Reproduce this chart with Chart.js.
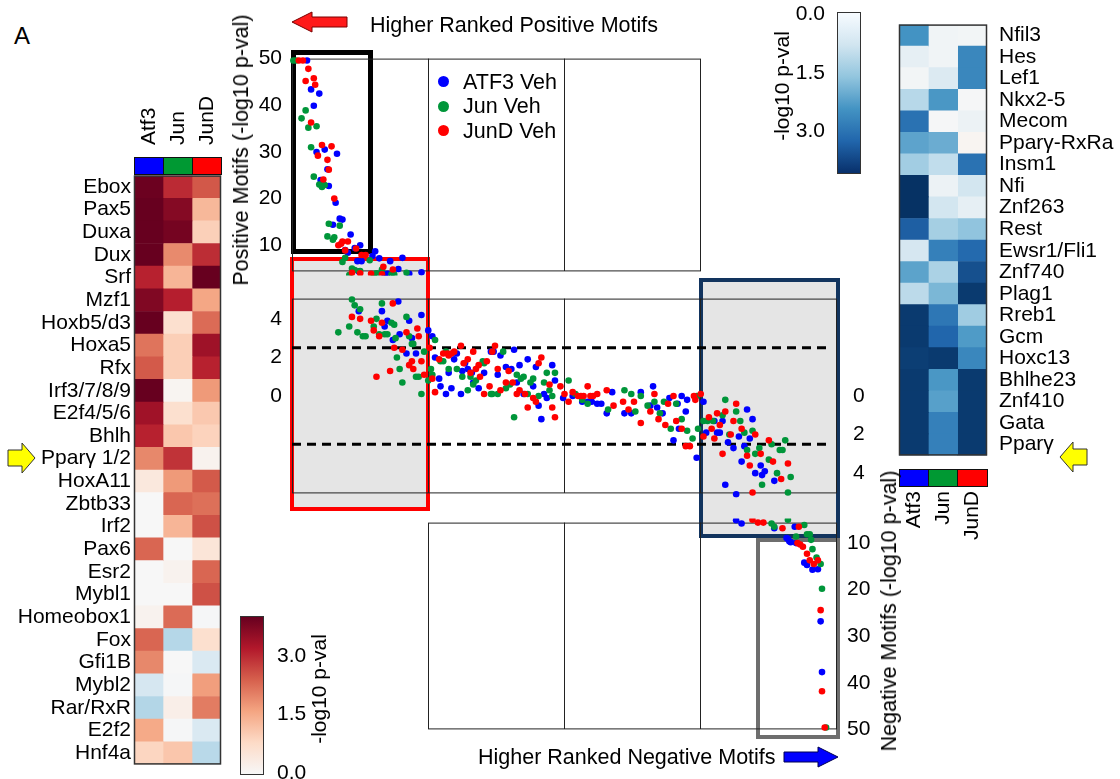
<!DOCTYPE html>
<html>
<head>
<meta charset="utf-8">
<script src="https://cdn.jsdelivr.net/npm/chart.js@4.4.0/dist/chart.umd.min.js"></script>
<style>
  body { margin: 0; background: #fff; }
  #fig { position: relative; width: 1120px; height: 779px; overflow: hidden;
         font-family: 'Liberation Sans', Arial, sans-serif; color: #000; }
  canvas { position: absolute; z-index: 1; }
  .txt { position: absolute; font-size: 21px; line-height: 24px; white-space: nowrap; z-index: 3; }
  .rot { transform: translate(-50%, -50%) rotate(-90deg); }
  .colhead { position: absolute; font-size: 21px; line-height: 22px; white-space: nowrap; z-index: 3;
             transform-origin: 0 0; transform: rotate(-90deg); }
  .fill { position: absolute; background: #e5e5e5; z-index: 0; }
  .box { position: absolute; box-sizing: border-box; z-index: 0; }
  .cell { position: absolute; box-sizing: border-box; border: 1.5px solid #111; z-index: 2; }
  .dot { position: absolute; width: 11px; height: 11px; border-radius: 50%; z-index: 3; }
  .cbar { position: absolute; box-sizing: border-box; border: 1.5px solid #333; z-index: 2; }
</style>
</head>
<body>
<div id="fig">
  <div class="txt" style="left:14px;top:23px;font-size:24px;line-height:26px;">A</div>

  <!-- gray fills of the highlighted groups -->
  <div class="fill" style="left:292px;top:259px;width:136px;height:250px;"></div>
  <div class="fill" style="left:701px;top:280px;width:137px;height:256px;"></div>
  <div class="box" style="left:291px;top:50px;width:82px;height:204px;border:5px solid #000;"></div>
  <div class="box" style="left:290px;top:257px;width:140px;height:254px;border:4px solid #ff0000;"></div>
  <div class="box" style="left:699px;top:278px;width:141px;height:260px;border:4px solid #12345e;"></div>
  <div class="box" style="left:756px;top:538px;width:84px;height:201px;border:4px solid #6e6e6e;"></div>

  <canvas id="heatLeft" width="230" height="620" style="left:0;top:160px;"></canvas>
  <canvas id="heatRight" width="240" height="480" style="left:880px;top:0;"></canvas>
  <canvas id="panelTop" width="700" height="258" style="left:200px;top:36px;"></canvas>
  <canvas id="panelMid" width="700" height="252" style="left:200px;top:270px;"></canvas>
  <canvas id="panelBot" width="700" height="252" style="left:200px;top:500px;"></canvas>

  <!-- factor colour keys -->
  <div class="cell" style="left:134px;top:157px;width:30px;height:18px;background:#0000ff;"></div>
  <div class="cell" style="left:163px;top:157px;width:30px;height:18px;background:#009933;"></div>
  <div class="cell" style="left:192px;top:157px;width:30px;height:18px;background:#ff0000;"></div>
  <div class="cell" style="left:899px;top:469px;width:30px;height:18px;background:#0000ff;"></div>
  <div class="cell" style="left:928px;top:469px;width:30px;height:18px;background:#009933;"></div>
  <div class="cell" style="left:957px;top:469px;width:31px;height:18px;background:#ff0000;"></div>

  <div class="colhead" style="left:137px;top:145px;">Atf3</div>
  <div class="colhead" style="left:166px;top:145px;">Jun</div>
  <div class="colhead" style="left:195px;top:145px;">JunD</div>
  <div class="colhead" style="left:902px;top:561px;width:70px;text-align:right;">Atf3</div>
  <div class="colhead" style="left:931px;top:561px;width:70px;text-align:right;">Jun</div>
  <div class="colhead" style="left:960px;top:561px;width:70px;text-align:right;">JunD</div>

  <!-- colour bars -->
  <div class="cbar" style="left:240px;top:616px;width:24px;height:159px;
       background:linear-gradient(to top,#f7f7f7 0%,#fddbc7 20%,#f4a582 40%,#d6604d 60%,#b2182b 80%,#67001f 100%);"></div>
  <div class="txt" style="left:277px;top:643px;">3.0</div>
  <div class="txt" style="left:277px;top:701px;">1.5</div>
  <div class="txt" style="left:277px;top:760px;">0.0</div>
  <div class="txt rot" style="left:319px;top:689px;">-log10 p-val</div>

  <div class="cbar" style="left:837px;top:12px;width:24px;height:162px;
       background:linear-gradient(to bottom,#f7fbff 0%,#d1e5f0 20%,#92c5de 40%,#4393c3 60%,#2166ac 80%,#08306b 100%);"></div>
  <div class="txt" style="left:790px;top:1px;width:35px;text-align:right;">0.0</div>
  <div class="txt" style="left:790px;top:60px;width:35px;text-align:right;">1.5</div>
  <div class="txt" style="left:790px;top:118px;width:35px;text-align:right;">3.0</div>
  <div class="txt rot" style="left:782px;top:86px;">-log10 p-val</div>

  <!-- axis titles and notes -->
  <div class="txt rot" style="left:241px;top:150px;font-size:21.5px;">Positive Motifs (-log10 p-val)</div>
  <div class="txt rot" style="left:889px;top:611px;font-size:21.5px;">Negative Motifs (-log10 p-val)</div>
  <div class="txt" style="left:370px;top:13px;font-size:21.5px;">Higher Ranked Positive Motifs</div>
  <div class="txt" style="left:478px;top:745px;font-size:21.5px;">Higher Ranked Negative Motifs</div>

  <!-- legend -->
  <div class="dot" style="left:438px;top:76px;background:#0000ff;"></div>
  <div class="dot" style="left:438px;top:101px;background:#00963a;"></div>
  <div class="dot" style="left:438px;top:125px;background:#ff0000;"></div>
  <div class="txt" style="left:463px;top:70px;font-size:21.5px;">ATF3 Veh</div>
  <div class="txt" style="left:463px;top:94px;font-size:21.5px;">Jun Veh</div>
  <div class="txt" style="left:463px;top:119px;font-size:21.5px;">JunD Veh</div>

  <svg width="1120" height="779" style="position:absolute;left:0;top:0;z-index:3;pointer-events:none;">
    <polygon points="292,22 312,12 312,17 347,17 347,27 312,27 312,32" fill="#ff1a1a" stroke="#7a0000" stroke-width="1"/>
    <polygon points="838,757 818,747 818,752 784,752 784,762 818,762 818,767" fill="#0000ff" stroke="#000050" stroke-width="1"/>
    <polygon points="35,458 22,443 22,450 8,450 8,466 22,466 22,473" fill="#ffff00" stroke="#333" stroke-width="1"/>
    <polygon points="1060,457 1073,442 1073,449 1087,449 1087,465 1073,465 1073,472" fill="#ffff00" stroke="#333" stroke-width="1"/>
  </svg>
</div>

<script>
// ---- heatmap rows and -log10 p-values (negative = depleted / blue) ----
const leftRows = ['Ebox', 'Pax5', 'Duxa', 'Dux', 'Srf', 'Mzf1', 'Hoxb5/d3', 'Hoxa5', 'Rfx', 'Irf3/7/8/9',
  'E2f4/5/6', 'Bhlh', 'Pparγ 1/2', 'HoxA11', 'Zbtb33', 'Irf2', 'Pax6', 'Esr2', 'Mybl1', 'Homeobox1',
  'Fox', 'Gfi1B', 'Mybl2', 'Rar/RxR', 'E2f2', 'Hnf4a'];
const leftAtf3 = [3.95, 4, 4, 4, 3.1, 3.73, 4, 2.17, 2.47, 4, 3.39, 3.1, 1.94, 0.43, 0, 0, 2.33, 0, 0, 0.15,
  2.33, 1.94, -0.69, -1.18, 1.53, 0.87];
const leftJun = [3.0, 3.68, 3.85, 1.91, 1.36, 3.13, 0.66, 0.98, 0.98, 0.1, 0.66, 1.1, 2.9, 1.73, 2.33, 1.36,
  0, 0.15, 0, 2.27, -1.16, 0, -0.05, 0.25, -0.05, 1.11];
const leftJunD = [2.49, 1.32, 0.96, 2.97, 4, 1.57, 2.27, 3.41, 3.1, 1.73, 1.08, 0.92, 0.15, 2.47, 2.22, 2.57,
  0.51, 2.33, 2.57, -0.05, 0.66, -0.61, 1.68, 2.08, -0.61, -1.1];

const rightRows = ['Nfil3', 'Hes', 'Lef1', 'Nkx2-5', 'Mecom', 'Pparγ-RxRa', 'Insm1', 'Nfi', 'Znf263', 'Rest',
  'Ewsr1/Fli1', 'Znf740', 'Plag1', 'Rreb1', 'Gcm', 'Hoxc13', 'Bhlhe23', 'Znf410', 'Gata', 'Pparγ'];
const rightAtf3 = [-2.4, -0.36, -0.1, -1.13, -2.99, -2.14, -1.4, -3.97, -3.97, -3.3, -0.69, -2.15, -1.07,
  -3.85, -3.85, -3.8, -3.85, -3.85, -3.85, -3.85];
const rightJun = [-0.15, -0.15, -0.57, -2.33, -0.05, -2.0, -1.0, -0.23, -0.76, -1.36, -2.73, -1.28, -1.83,
  -2.89, -3.2, -3.85, -2.33, -2.2, -2.73, -2.73];
const rightJunD = [-0.1, -2.61, -2.61, -0.05, -0.23, 0.1, -2.99, -0.76, -0.36, -1.61, -3.13, -3.52, -3.85,
  -1.42, -2.28, -2.61, -3.85, -3.85, -3.85, -3.85];

// ---- ranked motifs: [rank, signed -log10 p-val] ----
const atf3Veh = [
  [11,49.6],[14,43.4],[20,42.5],[16,39.9],[18,30.0],[24,30.5],[33,29.6],[26,26.3],[21,24.0],[27,22.7],
  [32,19.1],[35,15.7],[37,15.5],[30,14.4],[43,12.3],[50,10.0],[46,9.4],[39,9.0],[41,8.4],[61,8.7],
  [59,7.7],[64,7.2],[48,6.6],[51,6.6],[72,6.6],[81,7.3],
  [49,4.4],[66,4.4],[68,3.6],[70,3.9],[78,4.9],[74,2.9],[79,3.2],[84,2.2],[86,3.9],[88,3.0],
  [91,2.2],[95,4.2],[100,3.4],[103,3.1],[105,2.0],[108,0.9],[109,0.5],[113,0.1],[115,1.2],[117,0.4],
  [119,1.9],[121,2.2],[124,0.1],[125,1.3],[127,1.7],[129,1.4],[132,1.2],[133,0.7],[137,0.4],[141,1.2],
  [146,2.3],[148,2.3],[151,1.1],[153,2.1],[157,1.5],[161,1.4],[163,2.4],[165,0.7],[167,1.6],[170,0.1],
  [173,1.9],[177,0.5],[179,1.5],[181,-0.5],[183,-1.2],[185,0.1],[187,-0.1],[191,1.6],[193,0.8],[199,-0.1],
  [206,0.0],[213,-0.3],[217,-0.3],[220,-0.3],[224,-0.4],[227,-0.4],[231,-0.9],[235,0.2],[244,-0.9],[249,-0.9],
  [256,0.2],[263,-0.5],[265,0.5],[268,-0.6],[272,-0.9],[277,-0.1],[280,-2.3],[283,-0.4],[284,-1.7],[286,0.0],
  [289,-0.8],[290,-0.2],[297,-3.2],
  [302,-0.3],[304,-1.9],[310,-1.3],[312,-1.9],[314,-1.9],[316,-1.3],[320,-2.4],[324,-2.7],[328,-2.1],[332,-2.6],
  [334,-0.7],[336,-2.2],[338,-1.2],[330,-3.4],[340,-4.0],[344,-3.6],[347,-3.9],[354,-4.4],[345,-4.1],[318,-4.6],
  [326,-5.1],
  [330,-5.8],[354,-6.8],[369,-6.5],[363,-8.9],[365,-9.6],[370,-10.0],[364,-9.1],[366,-9.8],[376,-14.2],[378,-14.7],
  [382,-15.7],[386,-15.6],[388,-26.8],[389,-37.7]
];
const junVeh = [
  [1,49.6],[3,49.6],[10,38.9],[7,37.2],[12,35.2],[18,35.5],[14,31.0],[16,24.7],[20,23.0],[22,22.5],
  [24,22.9],[27,14.6],[35,14.2],[26,11.9],[30,11.2],[31,11.7],[39,7.3],[37,6.4],[57,6.8],
  [44,5.0],[46,4.7],[50,4.5],[66,4.8],[62,4.0],[60,3.6],[42,3.6],[34,3.3],[48,3.3],[52,3.1],
  [54,3.1],[64,3.2],[68,3.2],[70,3.2],[73,3.8],[75,3.7],[84,4.1],[76,3.0],[77,2.0],[79,1.4],
  [81,0.7],[86,3.1],[88,2.7],[89,2.7],[97,2.3],[91,1.0],[93,1.0],[95,0.1],[100,0.8],[102,1.4],
  [103,1.1],[105,2.9],[109,1.8],[111,1.8],[113,2.3],[115,1.4],[121,1.4],[125,1.0],[131,1.0],[129,0.3],
  [133,0.6],[135,0.8],[140,1.8],[141,1.7],[155,2.3],[146,0.1],[147,0.1],[151,0.1],[157,0.4],[160,0.6],
  [163,-1.1],[165,1.1],[168,0.9],[170,1.0],[173,0.1],[175,0.7],[177,0.9],[181,0.0],[185,0.7],[187,1.2],
  [189,0.3],[193,1.2],[191,0.0],[203,0.8],[208,0.1],[213,-0.2],[217,-0.4],[232,-0.7],[244,0.3],[249,0.1],
  [252,-0.8],[256,0.0],[261,-0.5],[266,-0.3],[270,-0.9],[273,-0.3],[278,-1.7],[282,-0.4],[286,-1.2],[290,-1.8],
  [294,-2.2],[297,0.0],[298,-1.7],
  [302,-1.3],[305,-1.3],[309,-1.3],[318,-0.2],[316,-1.0],[326,-0.8],[329,-1.3],[332,-1.9],[334,-2.8],[321,-2.0],
  [338,-1.8],[340,-3.0],[343,-2.7],[350,-3.3],[352,-2.5],[356,-4.0],[358,-2.8],[360,-2.8],[362,-2.3],[345,-4.6],
  [364,-5.0],[366,-4.2],
  [352,-5.8],[354,-6.5],[376,-6.1],[378,-8.1],[380,-8.1],[381,-9.3],[382,-11.3],[370,-8.6],[385,-13.1],[388,-14.5],
  [389,-19.8],[392,-49.6]
];
const jundVeh = [
  [5,49.6],[8,49.6],[12,47.8],[10,45.2],[16,45.8],[17,44.4],[14,36.3],[22,31.5],[29,31.2],[19,29.2],
  [26,28.3],[27,26.2],[23,24.1],[31,20.0],[34,10.0],[36,10.3],[37,10.8],[41,10.8],[39,8.9],[47,9.3],
  [51,7.9],[54,7.9],[67,5.4],
  [44,4.1],[50,4.0],[58,3.9],[60,3.4],[64,3.1],[66,3.8],[74,4.8],[75,2.5],[81,2.4],[84,3.3],
  [92,3.5],[93,3.1],[88,1.8],[86,1.6],[89,1.4],[95,1.8],[97,1.1],[72,1.3],[62,1.0],[101,2.5],
  [103,0.9],[105,0.2],[108,1.9],[111,2.2],[114,2.2],[115,2.1],[117,2.2],[119,2.3],[124,2.6],[126,1.7],
  [129,1.9],[133,2.3],[131,1.2],[137,1.6],[135,1.4],[138,1.0],[143,1.8],[145,0.5],[141,0.1],[147,2.3],
  [149,2.6],[151,1.4],[153,0.3],[157,0.7],[159,1.3],[162,0.7],[165,0.1],[167,0.3],[171,0.1],[173,-0.6],
  [177,-0.1],[179,-0.3],[181,1.7],[183,2.0],[189,0.6],[191,-0.6],[193,-1.1],[197,0.5],[200,0.1],[203,-0.3],
  [206,0.2],[210,0.0],[212,0.0],[214,0.0],[217,0.5],[219,0.0],[221,0.0],[224,0.1],[231,0.3],[236,-0.5],
  [243,-0.3],[247,-0.7],[251,-0.3],[256,-1.4],[263,-0.8],[266,0.1],[269,-1.2],[276,-0.4],[274,-1.5],[280,0.0],
  [282,-1.3],[286,-1.7],[289,-2.6],[292,-2.6],[295,0.0],[296,-0.2],[300,0.1],
  [302,-2.1],[306,-1.1],[308,-1.7],[310,-2.2],[312,-0.9],[314,-1.5],[318,-0.8],[316,-3.0],[322,-2.0],[324,-1.3],
  [326,-0.4],[330,-1.7],[334,-3.1],[336,-3.6],[340,-2.0],[344,-3.0],[350,-2.3],[353,-3.4],[359,-4.3],[364,-3.5],
  [338,-5.0],
  [342,-5.6],[346,-5.6],[360,-6.8],[372,-6.5],[371,-10.0],[375,-10.8],[373,-10.3],[378,-12.3],[380,-13.7],[386,-13.7],
  [383,-14.5],[388,-24.4],[389,-41.8],[391,-49.6]
];

// axes
const topTicks = [10, 20, 30, 40, 50];
const midLeftTicks = [0, 2, 4];
const midRightTicks = [0, -2, -4];
const bottomTicks = [-10, -20, -30, -40, -50];
const thresholds = [2.5, -2.5];

const FONT = "'Liberation Sans', Arial, sans-serif";
Chart.defaults.font.family = FONT;
Chart.defaults.font.size = 21;
Chart.defaults.color = '#000';
Chart.defaults.animation = false;

const frame = {
  id: 'frame',
  beforeDatasetsDraw(chart, args, o) { if (!o.onTop) draw(chart, o); },
  afterDatasetsDraw(chart, args, o) { if (o.onTop) draw(chart, o); }
};
function draw(chart, o) {
  if (!o.show) return;
  const a = chart.chartArea, c = chart.ctx;
  c.save();
  c.strokeStyle = o.color || '#222';
  c.lineWidth = o.width || 1;
  c.strokeRect(a.left + 0.5, a.top + 0.5, a.right - a.left - 1, a.bottom - a.top - 1);
  c.restore();
}
Chart.register(frame);

// diverging red/blue scale, -4..4
const divStops = [[-4,[5,48,97]],[-3.2,[33,102,172]],[-2.4,[67,147,195]],[-1.6,[146,197,222]],
  [-0.8,[209,229,240]],[0,[247,247,247]],[0.8,[253,219,199]],[1.6,[244,165,130]],
  [2.4,[214,96,77]],[3.2,[178,24,43]],[4,[103,0,31]]];
function cellColor(v) {
  v = Math.max(-4, Math.min(4, v));
  for (let i = 1; i < divStops.length; i++) {
    if (v <= divStops[i][0]) {
      const [a, ca] = divStops[i - 1], [b, cb] = divStops[i];
      const t = (v - a) / (b - a);
      return 'rgb(' + ca.map((c, k) => Math.round(c + (cb[k] - c) * t)).join(',') + ')';
    }
  }
}

function heatmap(id, rows, cols, side, axisWidth, padding) {
  new Chart(document.getElementById(id), {
    type: 'bar',
    data: {
      labels: rows,
      datasets: cols.map((vals, j) => ({
        data: vals.map(() => [j, j + 1]),
        backgroundColor: vals.map(cellColor),
        borderWidth: 0, grouped: false, barPercentage: 1, categoryPercentage: 1
      }))
    },
    options: {
      indexAxis: 'y', responsive: false,
      layout: { padding: padding },
      plugins: { legend: { display: false }, tooltip: { enabled: false },
                 frame: { show: true, onTop: true, color: '#333', width: 1.5 } },
      scales: {
        x: { type: 'linear', min: 0, max: 3, display: false },
        y: { position: side, grid: { display: false, drawTicks: false }, border: { display: false },
             ticks: { padding: side === 'left' ? 3 : 12, autoSkip: false, font: { size: 21 } },
             afterFit: s => { s.width = axisWidth; } }
      }
    }
  });
}
heatmap('heatLeft', leftRows, [leftAtf3, leftJun, leftJunD], 'left', 134, { top: 14, bottom: 9, right: 9 });
heatmap('heatRight', rightRows, [rightAtf3, rightJun, rightJunD], 'right', 133, { top: 11, bottom: 10, left: 19 });

const series = [
  { label: 'ATF3 Veh', pts: atf3Veh, color: '#0000ff', order: 3 },
  { label: 'Jun Veh', pts: junVeh, color: '#00963a', order: 2 },
  { label: 'JunD Veh', pts: jundVeh, color: '#ff0000', order: 1 }
];

function yAxis(pos, min, max, ticks, width, pad, show) {
  return {
    type: 'linear', position: pos, min: min, max: max, display: show,
    grid: { display: false, drawTicks: false }, border: { display: false },
    ticks: { padding: pad, callback: v => Math.abs(v), font: { size: 21 } },
    afterBuildTicks: s => { s.ticks = ticks.map(v => ({ value: v })); },
    afterFit: s => { s.width = width; }
  };
}

function panel(id, xMin, xMax, grid, yScales, padding, extra) {
  const sets = series.map(s => ({
    type: 'scatter', label: s.label, order: s.order,
    data: s.pts.map(p => ({ x: p[0], y: p[1] })),
    backgroundColor: s.color, borderWidth: 0, pointRadius: 3.3, clip: 4
  }));
  new Chart(document.getElementById(id), {
    type: 'scatter',
    data: { datasets: sets.concat(extra || []) },
    options: {
      responsive: false,
      layout: { padding: padding },
      plugins: { legend: { display: false }, tooltip: { enabled: false },
                 frame: { show: true, color: '#222', width: 1 } },
      scales: Object.assign({
        x: { type: 'linear', min: xMin, max: xMax,
             grid: { color: '#222', lineWidth: 1, drawTicks: false }, border: { display: false },
             ticks: { display: false },
             afterBuildTicks: s => { s.ticks = grid.map(v => ({ value: v })); },
             afterFit: s => { s.height = 0; } }
      }, yScales)
    }
  });
}

panel('panelTop', 0, 300, [100, 200],
  { y: yAxis('left', 4.4, 50, topTicks, 92, 10, true) },
  { top: 20, bottom: 20, right: 199 });

panel('panelMid', 0, 400, [100, 200, 300],
  { y: yAxis('left', -5.05, 5.05, midLeftTicks, 92, 10, true),
    y2: yAxis('right', -5.05, 5.05, midRightTicks, 63, 16, true) },
  { top: 20, bottom: 20 },
  thresholds.map(t => ({
    type: 'line', data: [{ x: 0, y: t }, { x: 395, y: t }], yAxisID: 'y', order: 10,
    borderColor: '#000', borderWidth: 3, borderDash: [9, 6], pointRadius: 0
  })));

panel('panelBot', 100, 400, [200, 300],
  { y: yAxis('right', -50, -5.6, bottomTicks, 63, 10, true) },
  { top: 20, bottom: 20, left: 228 });
</script>
</body>
</html>
